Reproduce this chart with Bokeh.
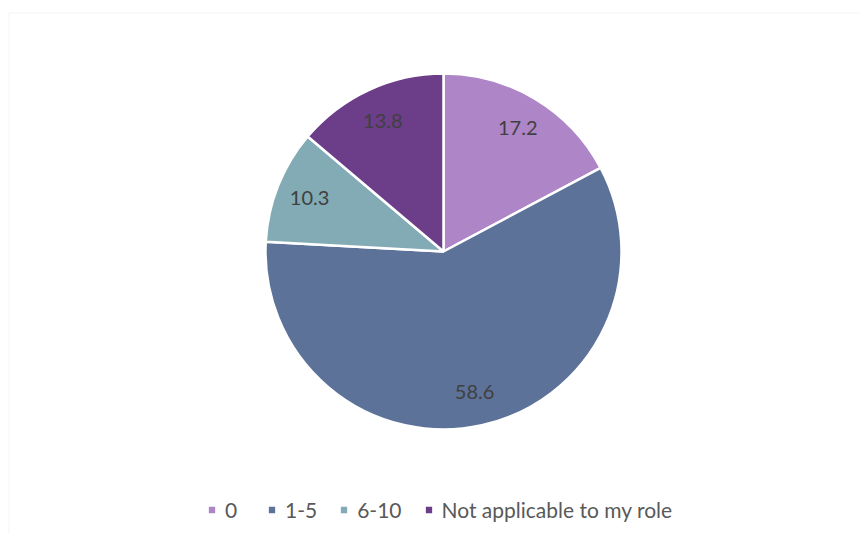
import numpy as np
from bokeh.plotting import figure
from bokeh.models import ColumnDataSource, Range1d, Legend, LegendItem, BoxAnnotation
from bokeh.core.properties import value
from bokeh.embed import file_html
from bokeh.resources import INLINE

categories = ["0", "1-5", "6-10", "Not applicable to my role"]
values = [17.2, 58.6, 10.3, 13.8]
colors = ["#AE85C6", "#5D7299", "#82ABB5", "#6C3D88"]

W, H = 860, 534
cx, cy, r = 443, 283, 178

vals = np.array(values)
frac = vals / vals.sum()
cum = np.concatenate([[0], np.cumsum(frac)])
start = np.pi / 2 - 2 * np.pi * cum[:-1]
end = np.pi / 2 - 2 * np.pi * cum[1:]
mid = (start + end) / 2
lr = 0.81 * r

src = ColumnDataSource(dict(
    cat=categories, val=values, color=colors,
    start=start, end=end,
    lx=cx + lr * np.cos(mid), ly=cy + lr * np.sin(mid),
    lab=[f"{v:.1f}" for v in values],
))

p = figure(width=W, height=H, output_backend="svg", toolbar_location=None,
           x_range=Range1d(0, W), y_range=Range1d(0, H),
           min_border=0, min_border_left=0, min_border_right=0,
           min_border_top=0, min_border_bottom=0)
p.axis.visible = False
p.grid.visible = False
p.outline_line_color = None
p.background_fill_color = "white"

p.add_layout(BoxAnnotation(left=8.5, right=2000, top=521.5, bottom=-100,
                           fill_alpha=0, line_color="#D9D9D9", line_width=1))

wedges = p.wedge(x=cx, y=cy, radius=r, start_angle="start", end_angle="end",
                 direction="clock", fill_color="color", line_color="white",
                 line_width=2.5, source=src)

p.text(x="lx", y="ly", text="lab", source=src, text_align="center",
       text_baseline="middle", text_font=value("Lato"), text_font_size="20px",
       text_color="#404040")

items = [LegendItem(label=c, renderers=[wedges], index=i) for i, c in enumerate(categories)]
legend = Legend(items=items, orientation="horizontal", location=(206, 12),
                glyph_width=11, glyph_height=11, label_standoff=8, spacing=21,
                padding=0, margin=0, border_line_color=None,
                background_fill_alpha=0,
                label_text_font="Lato", label_text_font_size="21px",
                label_text_color="#595959")
p.add_layout(legend, "center")

open("out.html", "w").write(file_html(p, INLINE))
